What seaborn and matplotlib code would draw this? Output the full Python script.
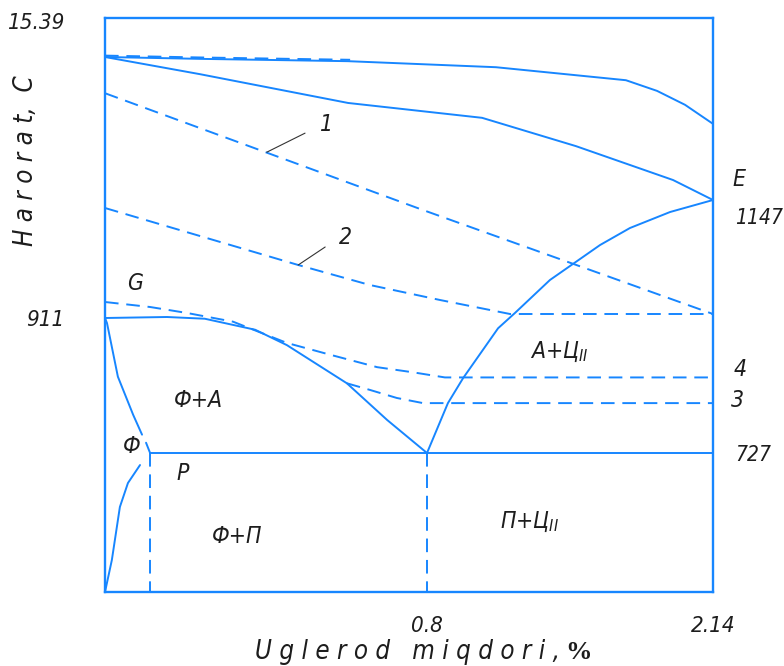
import numpy as np
import matplotlib
matplotlib.use("Agg")
import matplotlib.pyplot as plt
import matplotlib.transforms as mtransforms
import seaborn as sns

# Schematic Fe–Fe3C (steel part) diagram: carbon content in %, temperature in °C
liquidus_c = [0.0, 0.236, 0.604, 1.123, 1.732, 1.878, 2.009, 2.14]
liquidus_t = [1455, 1451, 1446, 1433, 1405, 1382, 1352, 1311]

liquidus_dash_c = [0.0, 0.236, 0.609]
liquidus_dash_t = [1458, 1454, 1449]

solidus_c = [0.0, 0.236, 0.604, 1.058, 1.498, 1.953, 2.14]
solidus_t = [1455, 1418, 1356, 1324, 1263, 1190, 1147]

line1_c = [0.0, 0.783, 2.14]
line1_t = [1377, 1129, 919]

line2_c = [0.0, 0.480, 0.658, 0.861, 1.189, 2.14]
line2_t = [1131, 1017, 977, 947, 919, 919]

gs_c = [0.0, 0.154, 0.248, 0.373, 0.452, 0.601, 0.701, 0.8]
gs_t = [911, 913, 910, 895, 874, 822, 772, 727]

line4_c = [0.0, 0.112, 0.204, 0.318, 0.452, 0.559, 0.676, 0.765, 0.884, 2.14]
line4_t = [943, 933, 921, 906, 877, 861, 844, 837, 830, 830]

line3_c = [0.601, 0.658, 0.725, 0.790, 2.14]
line3_t = [822, 813, 802, 795, 795]

es_c = [0.8, 0.898, 0.969, 1.133, 1.212, 1.376, 1.611, 1.751, 1.939, 2.14]
es_t = [727, 795, 829, 897, 921, 987, 1057, 1091, 1123, 1147]

gp_c = [0.0, 0.005, 0.032, 0.070, 0.092]
gp_t = [911, 904, 831, 779, 752]
gp_end_c = [0.102, 0.112]
gp_end_t = [741, 727]

pq_c = [0.087, 0.057, 0.037, 0.017, 0.0]
pq_t = [664, 570, 445, 167, 0]

psk_c = [0.112, 2.14]
psk_t = [727, 727]

p_vert_c = [0.112, 0.112]
s_vert_c = [0.8, 0.8]
vert_t = [727, 0]

leader1_c = [0.402, 0.497]
leader1_t = [1250, 1291]
leader2_c = [0.480, 0.547]
leader2_t = [1017, 1053]

x_ticks = [0.8, 2.14]
x_tick_labels = ["0.8", "2.14"]
y_ticks_left = [911, 1539]
y_tick_labels_left = ["911", "15.39"]
y_ticks_right = [727, 1147]
y_tick_labels_right = ["727", "1147"]

# schematic (non-proportional) axes: key values and their relative positions
x_keys = [0.0, 0.8, 2.14]
x_pos = [0.0, 322.0, 608.0]
t_keys = [0.0, 727.0, 911.0, 1147.0, 1539.0]
t_pos = [0.0, 139.0, 274.0, 392.0, 574.0]


def piecewise(src, dst):
    src = np.asarray(src, float)
    dst = np.asarray(dst, float)
    k0 = (dst[1] - dst[0]) / (src[1] - src[0])
    k1 = (dst[-1] - dst[-2]) / (src[-1] - src[-2])

    def f(v):
        v = np.asarray(v, float)
        out = np.interp(v, src, dst)
        out = np.where(v < src[0], dst[0] + (v - src[0]) * k0, out)
        out = np.where(v > src[-1], dst[-1] + (v - src[-1]) * k1, out)
        return out
    return f


fx, fx_inv = piecewise(x_keys, x_pos), piecewise(x_pos, x_keys)
fy, fy_inv = piecewise(t_keys, t_pos), piecewise(t_pos, t_keys)

sns.set_theme(style="white")
plt.rcParams["font.family"] = ["DejaVu Sans"]
plt.rcParams["font.stretch"] = "condensed"
plt.rcParams["font.style"] = "italic"
plt.rcParams["mathtext.default"] = "it"

BLUE = "#1786ff"
INK = "#1d1d1d"
LW = 1.4
DASH = (0, (7, 4))
FS = 16.5

fig = plt.figure(figsize=(7.84, 6.66), dpi=100)
ax = fig.add_axes([105 / 784, 74 / 666, 608 / 784, 574 / 666])


def draw(c, t, dashed=False, color=BLUE, lw=LW):
    sns.lineplot(x=c, y=t, ax=ax, estimator=None, sort=False, color=color,
                 linewidth=lw, linestyle=DASH if dashed else "-")


draw(liquidus_c, liquidus_t)
draw(liquidus_dash_c, liquidus_dash_t, dashed=True)
draw(solidus_c, solidus_t)
draw(line1_c, line1_t, dashed=True)
draw(line2_c, line2_t, dashed=True)
draw(gs_c, gs_t)
draw(line4_c, line4_t, dashed=True)
draw(line3_c, line3_t, dashed=True)
draw(es_c, es_t)
draw(gp_c, gp_t)
draw(gp_end_c, gp_end_t)
draw(pq_c, pq_t)
draw(psk_c, psk_t)
draw(p_vert_c, vert_t, dashed=True)
draw(s_vert_c, vert_t, dashed=True)
draw(leader1_c, leader1_t, color="#333333", lw=0.8)
draw(leader2_c, leader2_t, color="#333333", lw=0.8)

ax.set_xscale("function", functions=(fx, fx_inv))
ax.set_yscale("function", functions=(fy, fy_inv))
ax.set_xlim(0, 2.14)
ax.set_ylim(0, 1539)

for s in ax.spines.values():
    s.set_visible(True)
    s.set_color(BLUE)
    s.set_linewidth(1.7)

ax.set_xticks(x_ticks)
ax.set_xticklabels(x_tick_labels)
ax.set_yticks(y_ticks_left)
ax.set_yticklabels(y_tick_labels_left)
ax.tick_params(axis="x", length=0, pad=17, labelsize=16, labelcolor=INK)
ax.tick_params(axis="y", length=0, pad=29, labelsize=16, labelcolor=INK)
ax.set_xlabel("")
ax.set_ylabel("")
# the top value label sits slightly below the frame edge
top_lab = ax.get_yticklabels()[1]
top_lab.set_transform(top_lab.get_transform()
                      + mtransforms.ScaledTranslation(0, -0.03, fig.dpi_scale_trans))

ax2 = ax.twinx()
ax2.set_yscale("function", functions=(fy, fy_inv))
ax2.set_ylim(0, 1539)
ax2.set_yticks(y_ticks_right)
ax2.set_yticklabels(y_tick_labels_right)
ax2.tick_params(axis="y", length=0, pad=16, labelsize=15, labelcolor=INK)
for s in ax2.spines.values():
    s.set_visible(False)
e_lab = ax2.get_yticklabels()[1]
e_lab.set_transform(e_lab.get_transform()
                    + mtransforms.ScaledTranslation(0, -0.16, fig.dpi_scale_trans))

# axis titles
ax.text(0.748, -0.105, "U g l e r o d   m i q d o r i ,", transform=ax.transAxes,
        ha="right", va="center", fontsize=18.5, color=INK)
ax.text(0.757, -0.105, "%", transform=ax.transAxes, ha="left", va="center",
        fontsize=19, color=INK, family="Liberation Serif", style="normal",
        stretch="normal", weight="bold")
ax.text(-0.130, 0.751, "H a r o r a t,  C", transform=ax.transAxes, rotation=90,
        ha="center", va="center", fontsize=18.5, color=INK)

# region and point labels
labels = [
    ("G", 0.049, 0.538),
    ("1", 0.365, 0.814),
    ("2", 0.395, 0.618),
    ("E", 1.043, 0.718),
    ("4", 1.044, 0.387),
    ("3", 1.041, 0.334),
    ("А+Ц$_{II}$", 0.748, 0.418),
    ("Ф+А", 0.153, 0.334),
    ("Ф", 0.044, 0.253),
    ("P", 0.127, 0.206),
    ("Ф+П", 0.217, 0.096),
    ("П+Ц$_{II}$", 0.699, 0.122),
]
for txt, px, py in labels:
    ax.text(px, py, txt, transform=ax.transAxes, ha="center", va="center",
            fontsize=FS, color=INK, clip_on=False)

fig.savefig("out.png", dpi=100, facecolor="white")
